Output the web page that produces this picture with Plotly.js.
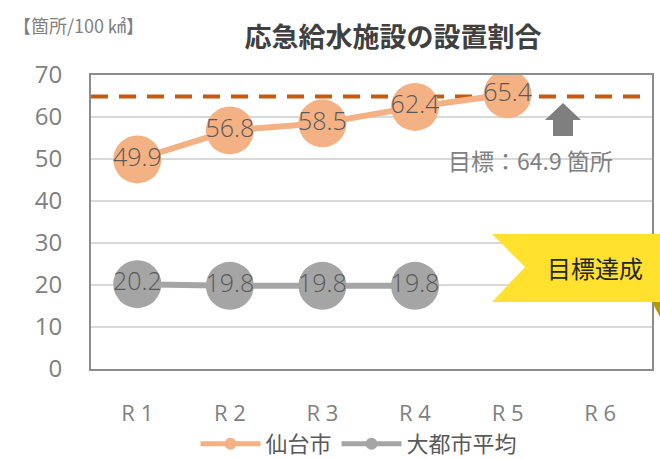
<!DOCTYPE html>
<html><head><meta charset="utf-8">
<script src="https://cdn.plot.ly/plotly-3.0.1.min.js"></script>
<style>html,body{margin:0;padding:0;background:#fff}#c{width:660px;height:459px}</style>
</head><body><div id="c"></div>
<script>
const categories = ['R1','R2','R3','R4','R5','R6'];
const tickLabels = ['R 1','R 2','R 3','R 4','R 5','R 6'];
const sendaiX = ['R1','R2','R3','R4','R5'];
const sendaiY = [49.9, 56.8, 58.5, 62.4, 65.4];
const avgX = ['R1','R2','R3','R4'];
const avgY = [20.2, 19.8, 19.8, 19.8];
const target = 64.9;

const W=660,H=459,L=91,R=8,T=75,B=90;
const pw=W-L-R, ph=H-T-B;
const px=x=>(x-L)/pw, py=y=>(H-B-y)/ph;
const F='"Noto Sans CJK JP", "Noto Sans", sans-serif';
const FN='"Open Sans", "Noto Sans CJK JP", sans-serif';

const traces=[
 {x:sendaiX,y:sendaiY,name:'仙台市',mode:'lines+markers+text',
  line:{color:'#F4B183',width:6},marker:{size:48,color:'#F4B183'},
  text:sendaiY.map(v=>v.toFixed(1)),textposition:'middle center',
  textfont:{size:25,color:'#595959',family:FN,weight:300}},
 {x:avgX,y:avgY,name:'大都市平均',mode:'lines+markers+text',
  line:{color:'#A5A5A5',width:6},marker:{size:48,color:'#A5A5A5'},
  text:avgY.map(v=>v.toFixed(1)),textposition:'middle center',
  textfont:{size:25,color:'#595959',family:FN,weight:300}}
];

const bannerPath = `M ${px(492)} ${py(234)} L ${px(660)} ${py(234)} L ${px(660)} ${py(302)} L ${px(492)} ${py(302)} L ${px(525)} ${py(267)} Z`;
const foldPath = `M ${px(652)} ${py(302)} L ${px(660)} ${py(302)} L ${px(660)} ${py(317)} Z`;
const arrowPath = `M ${px(563)} ${py(103)} L ${px(581)} ${py(120)} L ${px(573)} ${py(120)} L ${px(573)} ${py(136)} L ${px(553)} ${py(136)} L ${px(553)} ${py(120)} L ${px(545)} ${py(120)} Z`;

const layout={
 width:W,height:H,margin:{l:L,r:R,t:T,b:B,autoexpand:false},
 paper_bgcolor:'#fff',plot_bgcolor:'#fff',
 font:{family:F,color:'#808080'},
 title:{text:'<b>応急給水施設の設置割合</b>',x:px(393),xref:'paper',xanchor:'center',y:1-38/H,yanchor:'middle',
  font:{size:27,color:'#404040',family:F}},
 xaxis:{type:'category',categoryarray:categories,range:[-0.5,5.56],tickvals:categories,ticktext:tickLabels,
  showgrid:false,showline:true,mirror:true,linecolor:'#8C8C8C',linewidth:2,ticks:'',automargin:false,
  tickfont:{size:22,color:'#808080',family:FN},ticklabelstandoff:24,fixedrange:true},
 yaxis:{range:[0,70],dtick:10,showgrid:true,gridcolor:'#D9D9D9',gridwidth:1.5,zeroline:false,automargin:false,
  showline:true,mirror:true,linecolor:'#8C8C8C',linewidth:2,ticks:'',
  tickfont:{size:24,color:'#808080',family:FN},ticklabelstandoff:22,fixedrange:true},
 showlegend:true,
 legend:{orientation:'h',x:px(359),xanchor:'center',yref:'container',y:1-444/H,yanchor:'middle',
  font:{size:22,color:'#595959',family:F},itemsizing:'constant',itemwidth:60,
  tracegroupgap:0,bgcolor:'rgba(0,0,0,0)'},
 shapes:[
  {type:'line',xref:'paper',yref:'y',x0:0,x1:px(645),y0:target,y1:target,
   line:{color:'#C55A11',width:4,dash:'17px,11px'},layer:'below'},
  {type:'path',xref:'paper',yref:'paper',path:bannerPath,fillcolor:'#FFE12E',line:{width:0},layer:'above'},
  {type:'path',xref:'paper',yref:'paper',path:foldPath,fillcolor:'#B89A00',line:{width:0},layer:'above'},
  {type:'path',xref:'paper',yref:'paper',path:arrowPath,fillcolor:'#7F7F7F',line:{width:0},layer:'above'}
 ],
 annotations:[
  {xref:'paper',yref:'paper',x:px(11),y:py(25),xanchor:'left',yanchor:'middle',showarrow:false,
   text:'【箇所/100 ㎢】',font:{size:18,color:'#808080',family:F}},
  {xref:'paper',yref:'paper',x:px(530),y:py(160),xanchor:'center',yanchor:'middle',showarrow:false,
   text:'目標：'+target+' 箇所',font:{size:23,color:'#808080',family:F}},
  {xref:'paper',yref:'paper',x:px(595),y:py(267),xanchor:'center',yanchor:'middle',showarrow:false,
   text:'目標達成',font:{size:24,color:'#262626',family:F}}
 ]
};
Plotly.newPlot('c',traces,layout,{displayModeBar:false,staticPlot:true});
</script></body></html>
